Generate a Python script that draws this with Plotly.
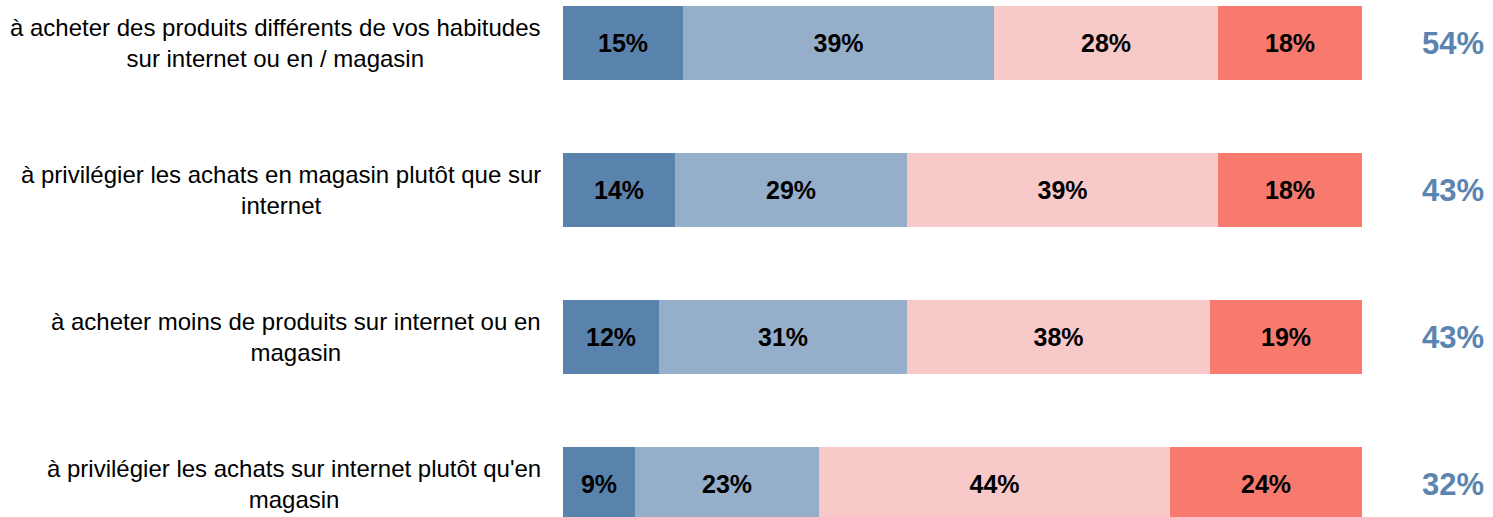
import plotly.graph_objects as go

categories = [
    "à acheter des produits différents de vos habitudes<br>sur internet ou en / magasin",
    "à privilégier les achats en magasin plutôt que sur<br>internet",
    "à acheter moins de produits sur internet ou en<br>magasin",
    "à privilégier les achats sur internet plutôt qu'en<br>magasin",
]
serie_1 = [15, 14, 12, 9]
serie_2 = [39, 29, 31, 23]
serie_3 = [28, 39, 38, 44]
serie_4 = [18, 18, 19, 24]
totals = [54, 43, 43, 32]

colors = ["#5982AD", "#95AECA", "#F7C9C9", "#F8796E"]
series = [serie_1, serie_2, serie_3, serie_4]

W, H = 1493, 517
L, R = 563, 131
FONT = "Liberation Sans, Arial, sans-serif"

ypos = list(range(len(categories)))

fig = go.Figure()
for vals, col in zip(series, colors):
    fig.add_trace(go.Bar(
        x=vals, y=ypos, orientation="h",
        marker=dict(color=col, line=dict(width=0)),
        width=0.503,
        texttemplate="<b>%{x}%</b>",
        textposition="inside",
        insidetextanchor="middle",
        textangle=0,
        textfont=dict(family=FONT, size=25, color="#000000"),
        hoverinfo="skip",
    ))

annotations = []
plot_w = W - L - R
for i, (cat, tot) in enumerate(zip(categories, totals)):
    annotations.append(dict(
        x=(543 - L) / plot_w, xref="paper", y=i, yref="y",
        text=cat, showarrow=False, xanchor="right", yanchor="middle",
        align="center", font=dict(family=FONT, size=24, color="#000000"),
    ))
    annotations.append(dict(
        x=(1453 - L) / plot_w, xref="paper", y=i, yref="y",
        text=f"<b>{tot}%</b>", showarrow=False, xanchor="center", yanchor="middle",
        font=dict(family=FONT, size=31, color="#5B84B1"),
    ))

fig.update_layout(
    width=W, height=H,
    barmode="stack",
    showlegend=False,
    margin=dict(l=L, r=R, t=0, b=0, pad=0),
    paper_bgcolor="white", plot_bgcolor="white",
    xaxis=dict(range=[0, 100], visible=False, fixedrange=True),
    yaxis=dict(range=[3.2245, -0.2925], visible=False, fixedrange=True),
    annotations=annotations,
    bargap=0,
)

fig.write_html(
    "out.html",
    config={"displayModeBar": False},
    post_script="document.body.style.margin='0px';document.body.style.overflow='hidden';",
)
